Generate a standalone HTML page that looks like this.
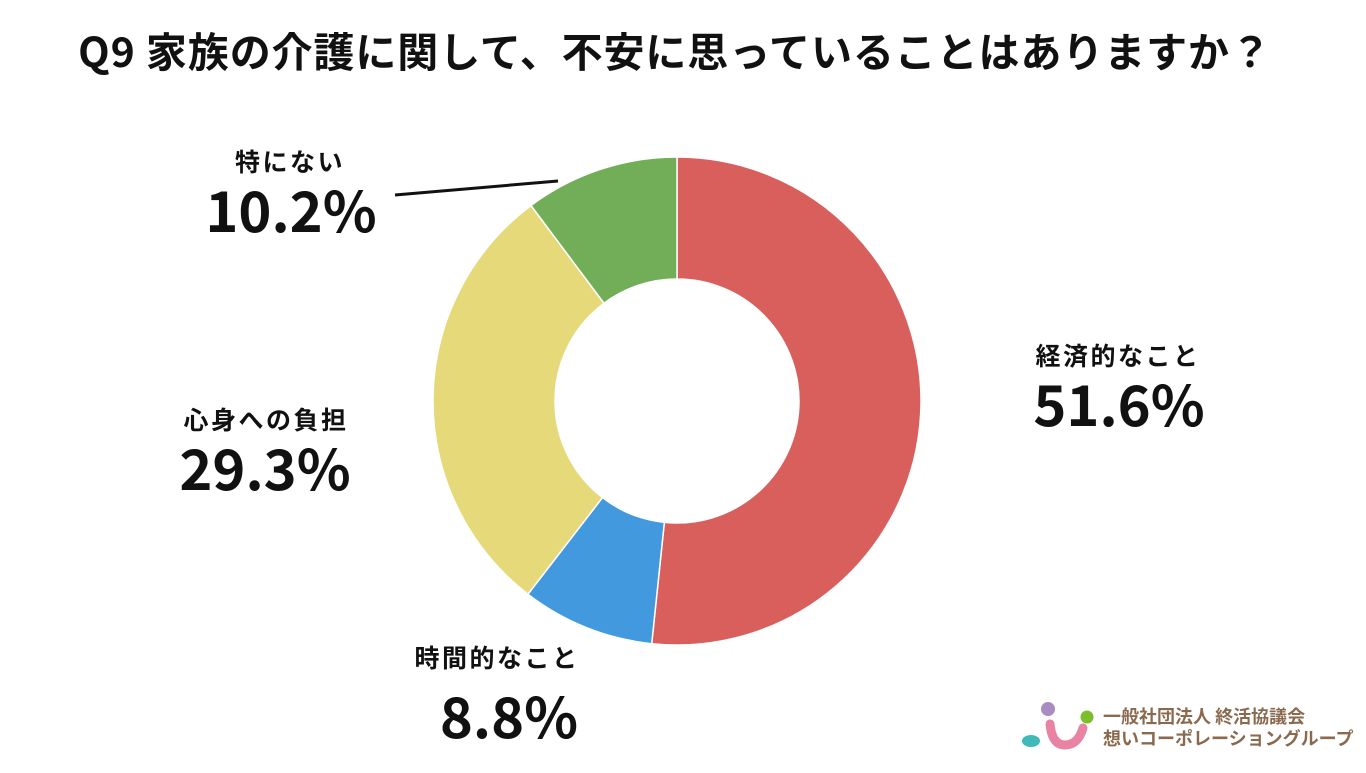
<!DOCTYPE html>
<html><head><meta charset="utf-8"><style>
body{margin:0;width:1366px;height:768px;background:#fff;overflow:hidden;font-family:"Noto Sans CJK JP","Liberation Sans",sans-serif;}
svg text{font-family:"Noto Sans CJK JP","Liberation Sans",sans-serif;font-weight:bold;fill:#111;}
</style></head><body>
<svg width="1366" height="768">
<text x="675" y="67" text-anchor="middle" font-size="41" letter-spacing="0.9">Q9 家族の介護に関して、不安に思っていることはありますか？</text>
<g id="slices"></g>
<line x1="395" y1="195" x2="558" y2="181" stroke="#111" stroke-width="3"/>
<g id="labels"></g>
<g>
<circle cx="1048" cy="709" r="7" fill="#a98bc2"/>
<circle cx="1087" cy="717" r="6.5" fill="#7dbf2a"/>
<path d="M1050 724 Q1052 745 1065 745 Q1078 745 1083 728" stroke="#e883a3" stroke-width="9" fill="none" stroke-linecap="round"/>
<ellipse cx="1031" cy="741" rx="9" ry="6" fill="#3fbab8"/>
<text x="1103" y="723" font-size="18" style="fill:#8a6a4e">一般社団法人 終活協議会</text>
<text x="1103" y="745" font-size="18" style="fill:#8a6a4e">想いコーポレーショングループ</text>
</g>
</svg>
<script>
const categories=["経済的なこと","時間的なこと","心身への負担","特にない"];
const values=[51.6,8.8,29.3,10.2];
const valueLabels=["51.6%","8.8%","29.3%","10.2%"];
const colors=["#d95f5d","#4299dd","#e5d97a","#72ae57"];
const cx=677,cy=401,R=244,r=122;
const catPos=[[1118,357],[497,659],[266,421],[290,163]];
const valPos=[[1119,426],[509,738],[265,490],[291,232]];
const ns="http://www.w3.org/2000/svg";
const total=values.reduce((a,b)=>a+b,0);
let a0=0;
const g=document.getElementById('slices');
function pt(rad,a){return [cx+rad*Math.sin(a),cy-rad*Math.cos(a)];}
values.forEach((v,i)=>{
  const a1=a0+v/total*2*Math.PI;
  const big=(a1-a0)>Math.PI?1:0;
  const [x0,y0]=pt(R,a0),[x1,y1]=pt(R,a1),[x2,y2]=pt(r,a1),[x3,y3]=pt(r,a0);
  const p=document.createElementNS(ns,'path');
  p.setAttribute('d',`M${x0} ${y0}A${R} ${R} 0 ${big} 1 ${x1} ${y1}L${x2} ${y2}A${r} ${r} 0 ${big} 0 ${x3} ${y3}Z`);
  p.setAttribute('fill',colors[i]);p.setAttribute('stroke','#fff');p.setAttribute('stroke-width','1.5');
  
  
  g.appendChild(p);
  a0=a1;
});
const lg=document.getElementById('labels');
categories.forEach((c,i)=>{
  const t=document.createElementNS(ns,'text');
  t.setAttribute('x',catPos[i][0]);t.setAttribute('y',catPos[i][1]+8);t.setAttribute('text-anchor','middle');t.setAttribute('font-size','25');
  t.setAttribute('letter-spacing','2.5');
  t.textContent=c;
  
  
  lg.appendChild(t);
  const t2=document.createElementNS(ns,'text');
  t2.setAttribute('x',valPos[i][0]);t2.setAttribute('y',valPos[i][1]);t2.setAttribute('text-anchor','middle');t2.setAttribute('font-size','56');
  t2.textContent=valueLabels[i];
  
  
  lg.appendChild(t2);
});
</script>
</body></html>
